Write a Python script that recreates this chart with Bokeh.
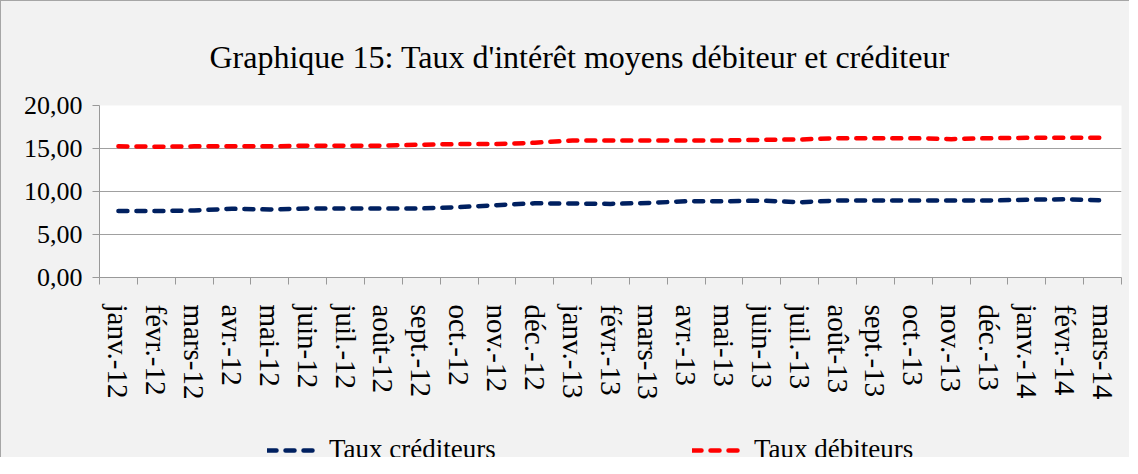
from bokeh.plotting import figure
from bokeh.layouts import column
from bokeh.models import (Range1d, FixedTicker, Legend, LegendItem,
                          CustomJSTickFormatter)
from bokeh.embed import file_html
from bokeh.resources import INLINE

# ---- data ----
months = ["janv.-12", "févr.-12", "mars-12", "avr.-12", "mai-12", "juin-12",
          "juil.-12", "août-12", "sept.-12", "oct.-12", "nov.-12", "déc.-12",
          "janv.-13", "févr.-13", "mars-13", "avr.-13", "mai-13", "juin-13",
          "juil.-13", "août-13", "sept.-13", "oct.-13", "nov.-13", "déc.-13",
          "janv.-14", "févr.-14", "mars-14"]

taux_crediteurs = [7.72, 7.72, 7.80, 7.99, 7.91, 8.03, 8.03, 8.03, 8.03, 8.18,
                   8.41, 8.63, 8.60, 8.56, 8.67, 8.86, 8.86, 8.94, 8.75, 8.94,
                   8.94, 8.94, 8.94, 8.94, 9.05, 9.09, 8.98]

taux_debiteurs = [15.25, 15.21, 15.25, 15.25, 15.25, 15.33, 15.33, 15.33, 15.44,
                  15.52, 15.52, 15.67, 15.93, 15.94, 15.94, 15.94, 15.94, 16.01,
                  16.05, 16.20, 16.20, 16.20, 16.09, 16.20, 16.24, 16.24, 16.24]

y_ticks = [0, 5, 10, 15, 20]
y_tick_labels = ["0,00", "5,00", "10,00", "15,00", "20,00"]
series_names = ["Taux créditeurs", "Taux débiteurs"]
series_colors = ["#002060", "#ff0000"]
title_text = "Graphique 15: Taux d'intérêt moyens débiteur et créditeur"

FONT = "Liberation Serif"
BG = "#f2f2f2"
W = 1128
ML, MR, MT = 98, 8, 97
FRAME_H = 174
MB = 125
H1 = MT + FRAME_H + MB
H2 = 55
LINE = dict(line_width=4.5, line_dash="9 9", line_cap="round", line_join="round")

n = len(months)
xs = [i + 0.5 for i in range(n)]

# ---------------- main chart ----------------
p = figure(width=W, height=H1, output_backend="svg", toolbar_location=None,
           x_range=Range1d(0, n), y_range=Range1d(0, 20),
           min_border_left=ML, min_border_right=MR,
           min_border_top=MT, min_border_bottom=MB)
p.border_fill_color = BG
p.background_fill_color = "white"
p.outline_line_color = None

p.title.text = title_text
p.title.align = "left"
p.title.offset = 110
p.title.standoff = 61
p.title.text_font = FONT
p.title.text_font_size = "32px"
p.title.text_font_style = "normal"
p.title.text_color = "black"

p.line(xs, taux_crediteurs, line_color=series_colors[0], **LINE)
p.line(xs, taux_debiteurs, line_color=series_colors[1], **LINE)

xa = p.xaxis[0]
xa.ticker = FixedTicker(ticks=xs, minor_ticks=list(range(n + 1)))
xa.formatter = CustomJSTickFormatter(args=dict(month_names=months),
                                     code="return month_names[Math.round(tick - 0.5)] || '';")
xa.major_tick_line_color = None
xa.major_tick_out = 0
xa.major_tick_in = 0
xa.minor_tick_out = 7
xa.minor_tick_in = 0
xa.minor_tick_line_color = "#999999"
xa.axis_line_color = "#999999"
xa.major_label_orientation = "vertical"
xa.major_label_standoff = 20
xa.major_label_text_font = FONT
xa.major_label_text_font_size = "29px"
xa.major_label_text_color = "black"

ya = p.yaxis[0]
ya.ticker = FixedTicker(ticks=y_ticks)
ya.formatter = CustomJSTickFormatter(args=dict(yvals=y_ticks, ylabs=y_tick_labels),
                                     code="const k = yvals.indexOf(tick); return k >= 0 ? ylabs[k] : '';")
ya.major_tick_out = 7
ya.major_tick_in = 0
ya.minor_tick_line_color = None
ya.major_tick_line_color = "#999999"
ya.axis_line_color = "#999999"
ya.major_label_standoff = 10
ya.major_label_text_font = FONT
ya.major_label_text_font_size = "26px"
ya.major_label_text_color = "black"

p.xgrid.visible = False
p.ygrid.ticker = FixedTicker(ticks=y_ticks)
p.ygrid.grid_line_color = "#a0a0a0"
p.ygrid.grid_line_width = 1

# ---------------- legend strip ----------------
# the series are drawn here too, but fall outside this strip's 0..1 range,
# so only their legend samples are visible
pl = figure(width=W, height=H2, output_backend="svg", toolbar_location=None,
            x_range=Range1d(0, 1), y_range=Range1d(0, 1),
            x_axis_type=None, y_axis_type=None,
            min_border_left=0, min_border_right=0,
            min_border_top=0, min_border_bottom=0)
pl.border_fill_color = BG
pl.background_fill_color = BG
pl.outline_line_color = None
pl.grid.visible = False
pl.title.visible = False

lr = [pl.line(xs, vals, line_color=c, **LINE)
      for vals, c in zip([taux_crediteurs, taux_debiteurs], series_colors)]
legend = Legend(items=[LegendItem(label=s, renderers=[r]) for s, r in zip(series_names, lr)],
                orientation="horizontal", location=(168, -8),
                padding=0, margin=0, spacing=149, glyph_width=50, glyph_height=20,
                label_width=214, label_standoff=12,
                label_text_font=FONT, label_text_font_size="27px",
                label_text_color="black",
                border_line_color=None, background_fill_alpha=0)
pl.add_layout(legend)

layout = column(p, pl, spacing=0,
                styles={"background-color": BG,
                        "padding-top": "5px",
                        "border-top": "1.5px solid #a6a6a6",
                        "border-left": "1.5px solid #a6a6a6"})

open("out.html", "w").write(file_html(layout, INLINE))
